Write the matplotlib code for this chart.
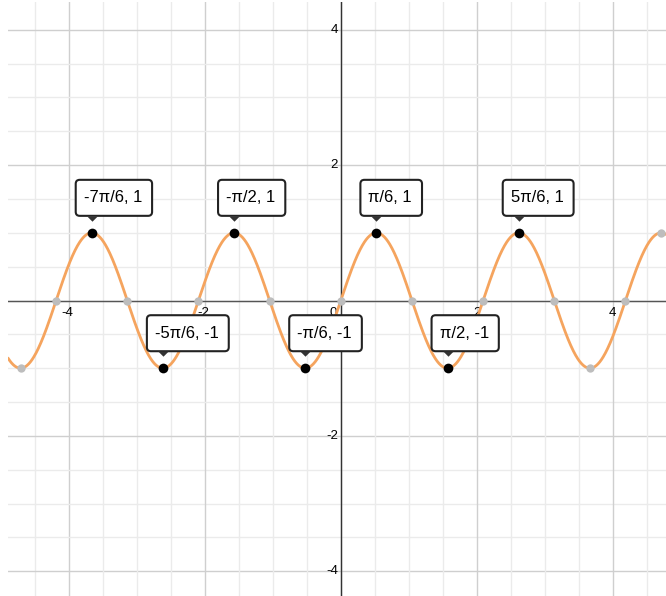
import numpy as np
import matplotlib
matplotlib.use('Agg')
from matplotlib import pyplot as plt
from matplotlib.patches import FancyBboxPatch
from matplotlib.transforms import offset_copy, IdentityTransform

plt.rcParams['font.family'] = ['Liberation Sans', 'DejaVu Sans']

# graph of y = sin(3x)
freq = 3
xmin, xmax = -4.897, 4.785
ymin, ymax = -4.365, 4.41

# labelled extrema (x in units of pi/6)
label_k = [-7, -5, -3, -1, 1, 3, 5]
label_txt = ['-7π/6, 1', '-5π/6, -1', '-π/2, 1', '-π/6, -1', 'π/6, 1', 'π/2, -1', '5π/6, 1']
# unlabelled (gray) points, x in units of pi/6
gray_k = [-9, -8, -6, -4, -2, 0, 2, 4, 6, 7, 8, 9]

xticks = [-4, -2, 2, 4]
yticks = [-4, -2, 2, 4]

fig = plt.figure(figsize=(6.66, 5.96), dpi=100)
ax = fig.add_axes([8 / 666, 0, 658 / 666, 594 / 596])
ax.set_xlim(xmin, xmax)
ax.set_ylim(ymin, ymax)
for s in ax.spines.values():
    s.set_visible(False)
ax.set_xticks([])
ax.set_yticks([])

# grid
for v in np.arange(-4.5, 5, 0.5):
    major = abs(v % 2) < 1e-9
    c = '#cfcfcf' if major else '#ebebeb'
    ax.axvline(v, color=c, lw=1, zorder=0)
    ax.axhline(v, color=c, lw=1, zorder=0)
ax.axhline(0, color='#555555', lw=1, zorder=1)
ax.axvline(0, color='#333333', lw=1, zorder=1)

# tick labels
tk = dict(textcoords='offset pixels', fontsize=9.5, color='black')
for t in xticks:
    ax.annotate(str(t), (t, 0), xytext=(-2 if t < 0 else 0, -6), ha='center', va='top', **tk)
ax.annotate('0', (0, 0), xytext=(-4, -6), ha='right', va='top', **tk)
for t in yticks:
    ax.annotate(str(t), (0, t), xytext=(-3, 0), ha='right', va='center', **tk)

# curve
x = np.linspace(xmin, xmax, 1500)
ax.plot(x, np.sin(freq * x), color='#f5a45e', lw=2.0, zorder=3, solid_capstyle='round')

gx = np.array(gray_k) * np.pi / 6
ax.plot(gx, np.sin(freq * gx), 'o', color='#bdbdbd', ms=6, mec='none', zorder=4)

lx = np.array(label_k) * np.pi / 6
ly = np.sin(freq * lx)
ax.plot(lx, ly, 'o', color='black', ms=7, mec='none', zorder=5)

# small pointer under each label box
tri = offset_copy(ax.transData, fig=fig, x=0, y=17, units='dots')
ax.plot(lx, ly, marker=[(-1, 0), (1, 0), (0, -1)], ls='none', color='#333333', ms=7.5,
        mec='none', transform=tri, zorder=11)

# label boxes, sized in pixels round the text
renderer = fig.canvas.get_renderer()
for xi, yi, txt in zip(lx, ly, label_txt):
    t = ax.annotate(txt, (xi, yi), xytext=(-8, 35), textcoords='offset pixels',
                    ha='left', va='center', fontsize=12, color='black', zorder=10)
    bb = t.get_window_extent(renderer)
    px, py = ax.transData.transform((xi, yi))
    left = px - 16
    width = bb.x1 + 10 - left
    box = FancyBboxPatch((left, py + 17), width, 36,
                         boxstyle='round,pad=0,rounding_size=4',
                         transform=IdentityTransform(), fc='white', ec='#222222',
                         lw=1.5, zorder=9)
    ax.add_artist(box)

fig.savefig('out.png', dpi=100)
